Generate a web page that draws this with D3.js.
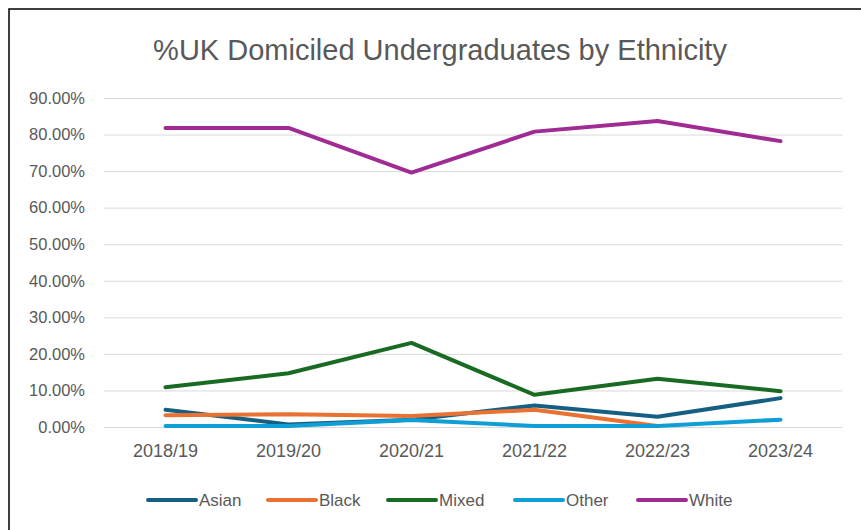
<!DOCTYPE html>
<html>
<head>
<meta charset="utf-8">
<script src="https://cdn.jsdelivr.net/npm/d3@7"></script>
<style>
  body { margin: 0; background: #fff; }
  text { font-family: "Liberation Sans", Arial, sans-serif; fill: #595959; }
</style>
</head>
<body>
<svg id="chart" width="861" height="530"></svg>
<script>
const years = ["2018/19", "2019/20", "2020/21", "2021/22", "2022/23", "2023/24"];
const yTicks = [0, 10, 20, 30, 40, 50, 60, 70, 80, 90];

// percentages
const asian = [4.7, 0.7, 2.0, 5.9, 2.8, 7.9];
const black = [3.2, 3.5, 3.0, 4.7, 0.3, null];
const mixed = [10.9, 14.7, 23.0, 8.8, 13.2, 9.8];
const other = [0.3, 0.3, 1.9, 0.3, 0.3, 2.0];
const white = [81.8, 81.8, 69.6, 80.8, 83.7, 78.2];

const seriesNames = ["Asian", "Black", "Mixed", "Other", "White"];
const seriesColors = ["#156082", "#E97132", "#196B24", "#0F9ED5", "#A02B93"];

const series = [asian, black, mixed, other, white].map((values, i) => ({
  name: seriesNames[i],
  color: seriesColors[i],
  values
}));

const svg = d3.select("#chart");

// chart frame
svg.append("rect")
  .attr("x", 9).attr("y", 9)
  .attr("width", 870).attr("height", 540)
  .attr("fill", "none")
  .attr("stroke", "#000")
  .attr("stroke-width", 1.5);

const x = d3.scaleBand().domain(years).range([104, 842]);
const y = d3.scaleLinear().domain([0, 90]).range([427, 98]);

svg.append("text")
  .attr("x", 440).attr("y", 60)
  .attr("text-anchor", "middle")
  .style("font-size", "29px")
  .text("%UK Domiciled Undergraduates by Ethnicity");

// gridlines + y labels
const yAxis = svg.append("g")
  .attr("transform", "translate(104,0)")
  .call(d3.axisLeft(y).tickValues(yTicks)
    .tickSize(-(842 - 104))
    .tickPadding(19)
    .tickFormat(d => d.toFixed(2) + "%"));
yAxis.select(".domain").remove();
yAxis.selectAll(".tick line").attr("stroke", "#d9d9d9");
yAxis.selectAll(".tick text")
  .style("font-size", "16.5px")
  .attr("fill", "#595959");

const xAxis = svg.append("g")
  .attr("transform", "translate(0,427)")
  .call(d3.axisBottom(x).tickSize(0).tickPadding(17));
xAxis.select(".domain").remove();
xAxis.selectAll(".tick text")
  .style("font-size", "18px")
  .attr("fill", "#595959");

const line = d3.line()
  .defined(d => d != null)
  .x((d, i) => x(years[i]) + x.bandwidth() / 2)
  .y(d => y(d));

svg.append("g").selectAll("path")
  .data(series)
  .join("path")
  .attr("d", d => line(d.values))
  .attr("fill", "none")
  .attr("stroke", d => d.color)
  .attr("stroke-width", 4)
  .attr("stroke-linejoin", "round")
  .attr("stroke-linecap", "round");

// legend
const legendX = [148, 268, 388, 515, 638];
const legend = svg.append("g").selectAll("g")
  .data(series)
  .join("g")
  .attr("transform", (d, i) => `translate(${legendX[i]},500)`);
legend.append("line")
  .attr("x1", 0).attr("x2", 48)
  .attr("stroke", d => d.color)
  .attr("stroke-width", 4)
  .attr("stroke-linecap", "round");
legend.append("text")
  .attr("x", 51).attr("y", 6)
  .style("font-size", "17px")
  .text(d => d.name);
</script>
</body>
</html>
